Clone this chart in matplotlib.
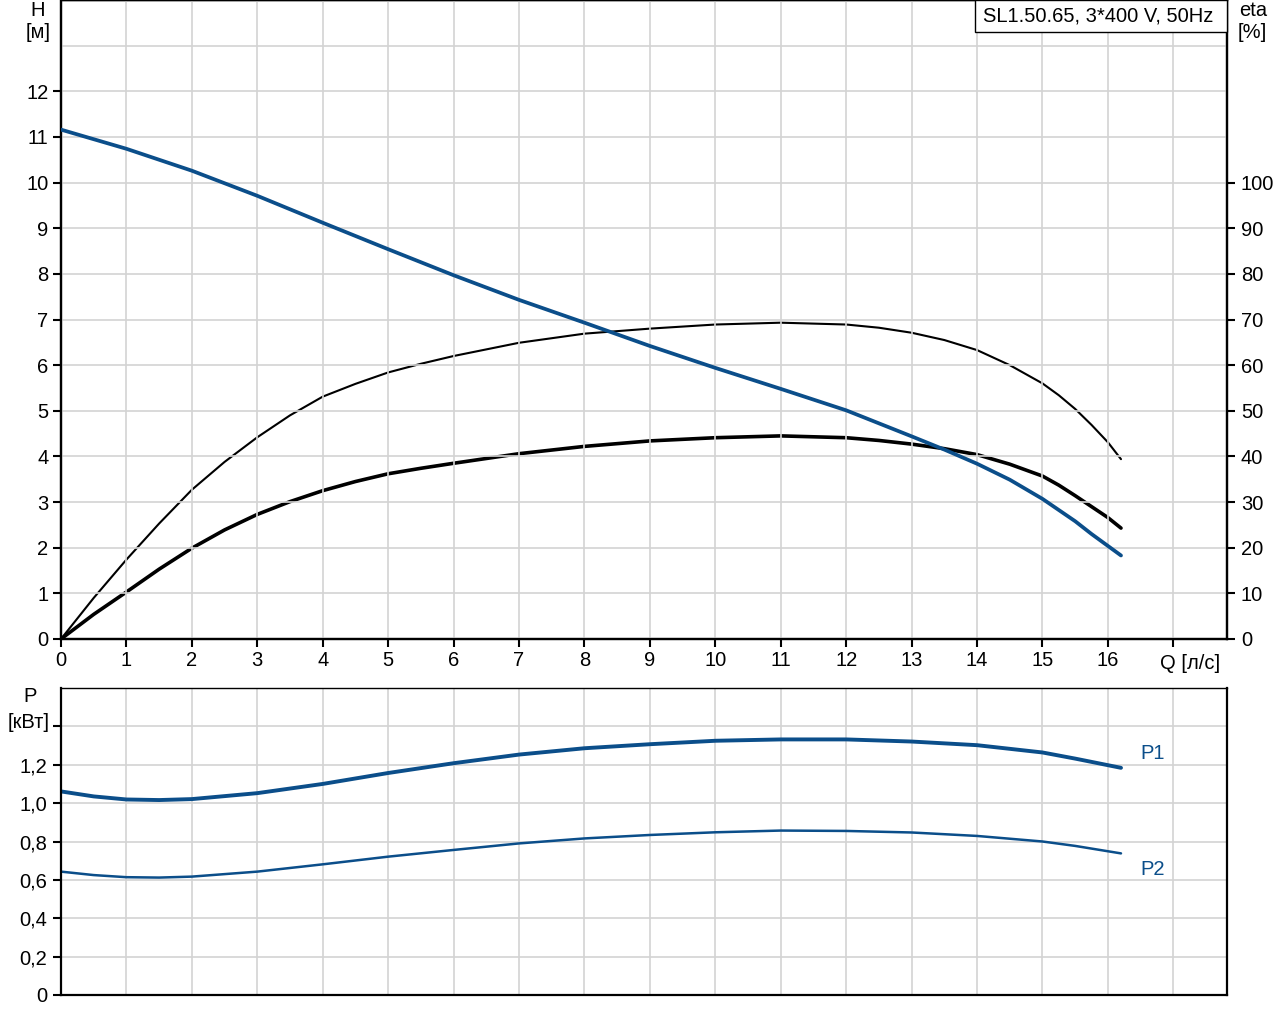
import matplotlib
matplotlib.use("Agg")
import matplotlib.pyplot as plt
from matplotlib.patches import Rectangle

plt.rcParams['font.family'] = ['Liberation Sans', 'DejaVu Sans']

# ---- data ----
q_H = [0, 1, 2, 3, 4, 5, 6, 7, 8, 9, 10, 11, 12, 13, 13.5, 14, 14.5, 15, 15.5,
       15.75, 16.2]
H = [11.16, 10.74, 10.26, 9.71, 9.12, 8.54, 7.97, 7.43, 6.93, 6.42, 5.94, 5.48,
     5.01, 4.44, 4.15, 3.84, 3.49, 3.07, 2.58, 2.30, 1.83]

q_eta = [0, 0.5, 1, 1.5, 2, 2.5, 3, 3.5, 4, 4.5, 5, 5.5, 6, 7, 8, 9, 10, 11, 12,
         12.5, 13, 13.5, 14, 14.5, 15, 15.25, 15.5, 15.75, 16, 16.2]
eta_pump = [0, 9.0, 17.4, 25.3, 32.7, 38.8, 44.2, 49.0, 53.1, 55.9, 58.4, 60.3,
            62.0, 64.9, 66.9, 68.0, 68.9, 69.3, 68.9, 68.2, 67.1, 65.5, 63.3,
            60.0, 56.0, 53.4, 50.4, 46.9, 43.1, 39.4]
eta_total = [0, 5.4, 10.3, 15.3, 19.9, 23.9, 27.3, 30.1, 32.5, 34.5, 36.2, 37.4,
             38.5, 40.6, 42.2, 43.4, 44.1, 44.5, 44.1, 43.5, 42.7, 41.7, 40.4,
             38.3, 35.7, 33.7, 31.4, 29.0, 26.6, 24.3]

q_P = [0, 0.5, 1, 1.5, 2, 3, 4, 5, 6, 7, 8, 9, 10, 11, 12, 13, 14, 15, 15.5, 16.2]
P1 = [1.061, 1.035, 1.019, 1.016, 1.021, 1.052, 1.100, 1.157, 1.208, 1.253, 1.286,
      1.307, 1.325, 1.332, 1.332, 1.321, 1.302, 1.264, 1.232, 1.184]
P2 = [0.643, 0.625, 0.614, 0.612, 0.617, 0.643, 0.681, 0.721, 0.756, 0.790, 0.816,
      0.834, 0.848, 0.857, 0.855, 0.847, 0.829, 0.800, 0.777, 0.738]

x_ticks = list(range(0, 18))
x_labels = [str(i) for i in range(0, 17)] + ['']
h_ticks = list(range(0, 13))
eta_ticks = list(range(0, 101, 10))
p_ticks = [0, 0.2, 0.4, 0.6, 0.8, 1.0, 1.2, 1.4]
p_labels = ['0', '0,2', '0,4', '0,6', '0,8', '1,0', '1,2', '']
title_text = "SL1.50.65, 3*400 V, 50Hz"

BLUE = '#0b4e8a'
GRID = '#d3d3d3'
FS = 14.5

W, Hpx = 1280, 1024
fig = plt.figure(figsize=(12.8, 10.24), dpi=100)

def fx(px):
    return px / W

def fy(py):
    return 1 - py / Hpx

# ---- top axes ----
ax = fig.add_axes([fx(61), fy(639), fx(1227) - fx(61), fy(0) - fy(639)])
ax.set_xlim(0, 17.82)
ax.set_ylim(0, 14)
ax.set_xticks(x_ticks)
ax.set_xticklabels(x_labels)
ax.set_yticks(h_ticks)
ax.set_yticks([13], minor=True)
ax.grid(which='both', color=GRID, linewidth=1.2)
ax.set_axisbelow(True)
ax.tick_params(which='major', direction='out', length=6, width=1.5,
               labelsize=FS, pad=3, colors='black')
ax.tick_params(which='minor', length=0)
for s in ax.spines.values():
    s.set_linewidth(1.6)
ax.spines['top'].set_linewidth(1.0)

ax.plot(q_H, H, color=BLUE, lw=2.7, solid_capstyle='round',
        solid_joinstyle='round', zorder=4)

ax2 = ax.twinx()
ax2.set_ylim(0, 140)
ax2.set_yticks(eta_ticks)
ax2.tick_params(direction='out', length=6, width=1.5, labelsize=FS, pad=4)
for s in ax2.spines.values():
    s.set_linewidth(1.6)
ax2.spines['top'].set_linewidth(1.0)
ax2.plot(q_eta, eta_pump, color='black', lw=1.5, solid_capstyle='round',
         solid_joinstyle='round', zorder=3)
ax2.plot(q_eta, eta_total, color='black', lw=2.6, solid_capstyle='round',
         solid_joinstyle='round', zorder=3)
# keep H curve on top
ax.set_zorder(ax2.get_zorder() + 1)
ax.patch.set_visible(False)
ax2.patch.set_visible(True)

ax.text(16.79, -0.0235, "Q [л/с]", transform=ax.get_xaxis_transform(),
        ha='left', va='top', fontsize=FS)

fig.text(fx(38), fy(10), "H", ha='center', va='center', fontsize=FS)
fig.text(fx(38), fy(33), "[м]", ha='center', va='center', fontsize=FS)
fig.text(fx(1253), fy(10), "eta", ha='center', va='center', fontsize=FS)
fig.text(fx(1252), fy(33), "[%]", ha='center', va='center', fontsize=FS)

# title box
fig.patches.append(Rectangle((fx(975), fy(32)), fx(1227) - fx(975), fy(0) - fy(32),
                             transform=fig.transFigure, facecolor='white',
                             edgecolor='black', linewidth=1.0, zorder=10))
fig.text(fx(1098), fy(16), title_text, ha='center', va='center', fontsize=FS,
         zorder=11)

# ---- bottom axes ----
axb = fig.add_axes([fx(61), fy(995), fx(1227) - fx(61), fy(688) - fy(995)])
axb.set_xlim(0, 17.82)
axb.set_ylim(0, 1.6)
axb.set_xticks(x_ticks)
axb.set_xticklabels([])
axb.set_yticks(p_ticks)
axb.set_yticklabels(p_labels)
axb.grid(color=GRID, linewidth=1.2)
axb.set_axisbelow(True)
axb.tick_params(axis='x', length=0)
axb.tick_params(axis='y', direction='out', length=6, width=1.5, labelsize=FS, pad=4)
for s in axb.spines.values():
    s.set_linewidth(1.6)
axb.spines['top'].set_linewidth(1.0)

axb.plot(q_P, P1, color=BLUE, lw=2.8, solid_capstyle='round', solid_joinstyle='round')
axb.plot(q_P, P2, color=BLUE, lw=1.8, solid_capstyle='round', solid_joinstyle='round')
axb.text(16.5, 1.257, "P1", color=BLUE, fontsize=FS, ha='left', va='center')
axb.text(16.5, 0.655, "P2", color=BLUE, fontsize=FS, ha='left', va='center')

fig.text(fx(30), fy(697), "P", ha='center', va='center', fontsize=FS)
fig.text(fx(29), fy(722), "[кВт]", ha='center', va='center', fontsize=FS)

fig.savefig("out.png", dpi=100)
